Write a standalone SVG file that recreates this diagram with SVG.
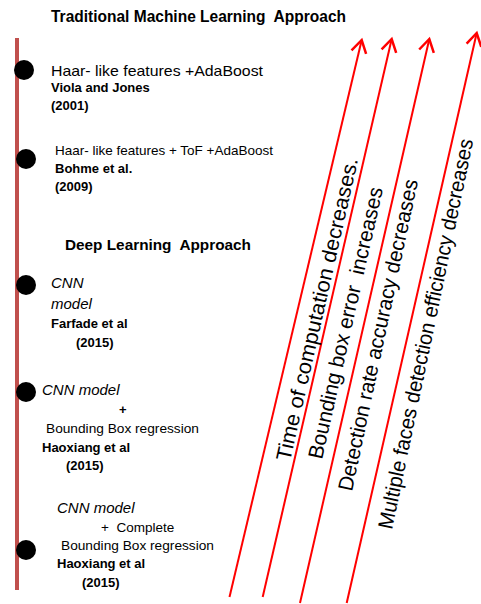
<svg xmlns="http://www.w3.org/2000/svg" width="481" height="604" viewBox="0 0 481 604">
<style>
text{font-family:"Liberation Sans",Arial,sans-serif;fill:#000;white-space:pre}
.b{font-weight:bold;font-size:13px}
.r{font-size:13.5px}
.i{font-style:italic;font-size:15px}
.h{font-weight:bold;font-size:16px}
.rot{font-size:21px}
.arr{stroke:#FF0000;stroke-width:2;fill:none}
.dot{fill:#000}
</style>
<defs>
<marker id="ah" markerUnits="userSpaceOnUse" markerWidth="20" markerHeight="20" viewBox="-12 -8 14 16" refX="0" refY="0" orient="auto">
<path d="M-10,-6 L0,0 L-10,6" stroke="#FF0000" stroke-width="2" fill="none"/>
</marker>
</defs>
<rect x="15" y="38" width="4" height="552" fill="#C0504D"/>
<text class="h" x="51" y="22" textLength="295" lengthAdjust="spacingAndGlyphs">Traditional Machine Learning  Approach</text>
<text class="h" x="65" y="250" textLength="186" lengthAdjust="spacingAndGlyphs" style="font-size:15px">Deep Learning  Approach</text>
<g id="node1">
<circle class="dot" cx="24" cy="70" r="10"/>
<text x="51" y="76" style="font-size:15px" textLength="212" lengthAdjust="spacingAndGlyphs">Haar- like features +AdaBoost</text>
<text class="b" x="51" y="92">Viola and Jones</text>
<text class="b" x="51" y="110">(2001)</text>
</g>
<g id="node2">
<circle class="dot" cx="26" cy="159" r="10"/>
<text class="r" x="55" y="155" textLength="218" lengthAdjust="spacingAndGlyphs">Haar- like features + ToF +AdaBoost</text>
<text class="b" x="55" y="173">Bohme et al.</text>
<text class="b" x="55" y="191">(2009)</text>
</g>
<g id="node3">
<circle class="dot" cx="26" cy="285" r="10"/>
<text class="i" x="51" y="288">CNN</text>
<text class="i" x="51" y="309">model</text>
<text class="b" x="51" y="328">Farfade et al</text>
<text class="b" x="76" y="347">(2015)</text>
</g>
<g id="node4">
<circle class="dot" cx="26" cy="392" r="10"/>
<text class="i" x="42" y="395">CNN model</text>
<text class="b" x="119" y="414">+</text>
<text class="r" x="46" y="433" textLength="153" lengthAdjust="spacingAndGlyphs">Bounding Box regression</text>
<text class="b" x="42" y="452">Haoxiang et al</text>
<text class="b" x="66" y="470">(2015)</text>
</g>
<g id="node5">
<circle class="dot" cx="26" cy="550" r="10"/>
<text class="i" x="57" y="513">CNN model</text>
<text class="r" x="101" y="532">+  Complete</text>
<text class="r" x="61" y="550" textLength="153" lengthAdjust="spacingAndGlyphs">Bounding Box regression</text>
<text class="b" x="57" y="568">Haoxiang et al</text>
<text class="b" x="82" y="587">(2015)</text>
</g>
<g id="connectors">
<line class="arr" x1="229.5" y1="597" x2="361.7" y2="40" marker-end="url(#ah)"/>
<line class="arr" x1="262.7" y1="597" x2="391.7" y2="39" marker-end="url(#ah)"/>
<line class="arr" x1="300" y1="603" x2="429.3" y2="39" marker-end="url(#ah)"/>
<line class="arr" x1="346.7" y1="603" x2="476.7" y2="33" marker-end="url(#ah)"/>
<text class="rot" transform="translate(290,462) rotate(-77.3)" textLength="310" lengthAdjust="spacingAndGlyphs">Time of computation decreases.</text>
<text class="rot" transform="translate(322,460) rotate(-77.3)" textLength="278" lengthAdjust="spacingAndGlyphs">Bounding box error  increases</text>
<text class="rot" transform="translate(352,492) rotate(-78)" textLength="318" lengthAdjust="spacingAndGlyphs">Detection rate accuracy decreases</text>
<text class="rot" transform="translate(392,530) rotate(-78.2)" textLength="398" lengthAdjust="spacingAndGlyphs">Multiple faces detection efficiency decreases</text>
</g>
</svg>
